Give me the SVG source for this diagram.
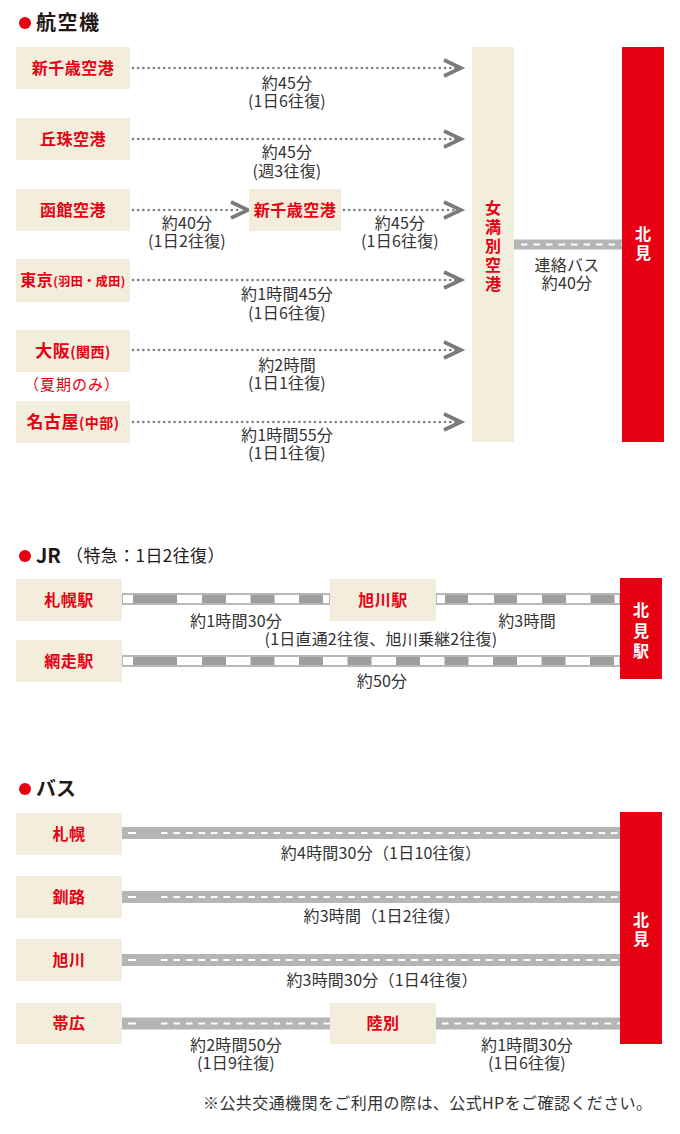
<svg xmlns="http://www.w3.org/2000/svg" width="680" height="1134" viewBox="0 0 680 1134">
<style>
text{font-family:"Noto Sans CJK JP","Noto Sans",sans-serif}
.hd{font-size:20px;font-weight:700;fill:#231815}
.hs{font-size:17px;fill:#231815}
.box{fill:#f3eddb}
.red{fill:#e60012}
.nl{font-size:16px;font-weight:700;fill:#e60012;text-anchor:middle;letter-spacing:0.5px}
.vt{font-size:16px;font-weight:700;writing-mode:vertical-rl;text-anchor:start}
.lb{font-size:16px;fill:#333;text-anchor:middle;letter-spacing:0.2px}
.dot{stroke:#7d7d7d;stroke-width:2.6;stroke-linecap:round;stroke-dasharray:0 5.2;fill:none}
.chev{stroke:#7a7a7a;stroke-width:3.6;fill:none;stroke-linejoin:miter}
.road{fill:#b5b5b5}
.dash{stroke:#fff;stroke-width:2;stroke-dasharray:6.5 6;fill:none}
.track{fill:#fff;stroke:#b8b8b8;stroke-width:2}
.blk{fill:#9e9e9e}
</style>

<!-- Section headers -->
<g id="hdr-air"><circle cx="25" cy="23" r="6" class="red"/><text x="36" y="30" class="hd" letter-spacing="1.5">航空機</text></g>
<g id="hdr-jr"><circle cx="25" cy="556" r="6" class="red"/><text x="36" y="563" class="hd">JR</text><text x="66" y="562" class="hs" letter-spacing="0.4">（特急：1日2往復）</text></g>
<g id="hdr-bus"><circle cx="25" cy="789" r="6" class="red"/><text x="36" y="796" class="hd">バス</text></g>

<!-- Connectors -->
<g id="connectors">
  <!-- air -->
  <line x1="133" y1="68" x2="457" y2="68" class="dot"/>
  <polyline points="444,60 461,68 444,76" class="chev"/>
  <line x1="133" y1="139" x2="457" y2="139" class="dot"/>
  <polyline points="444,131 461,139 444,147" class="chev"/>
  <line x1="133" y1="210" x2="242" y2="210" class="dot"/>
  <polyline points="231,202 248,210 231,218" class="chev"/>
  <line x1="344" y1="210" x2="457" y2="210" class="dot"/>
  <polyline points="444,202 461,210 444,218" class="chev"/>
  <line x1="133" y1="280" x2="457" y2="280" class="dot"/>
  <polyline points="444,272 461,280 444,288" class="chev"/>
  <line x1="133" y1="350" x2="457" y2="350" class="dot"/>
  <polyline points="444,342 461,350 444,358" class="chev"/>
  <line x1="133" y1="422" x2="457" y2="422" class="dot"/>
  <polyline points="444,414 461,422 444,430" class="chev"/>
  <!-- connecting bus -->
  <rect x="514" y="239.5" width="108" height="10" class="road"/>
  <line x1="521" y1="244.5" x2="622" y2="244.5" class="dash"/>

  <!-- JR tracks -->
  <rect x="122" y="594" width="208" height="10" class="track"/>
  <rect x="436" y="594" width="184" height="10" class="track"/>
  <rect x="122" y="656" width="498" height="10" class="track"/>
  <g class="blk">
    <rect x="133" y="595" width="44" height="8"/>
    <rect x="202" y="595" width="24" height="8"/>
    <rect x="250.5" y="595" width="24" height="8"/>
    <rect x="299" y="595" width="24" height="8"/>
    <rect x="445" y="595" width="23" height="8"/>
    <rect x="494" y="595" width="23" height="8"/>
    <rect x="542" y="595" width="24" height="8"/>
    <rect x="590.5" y="595" width="24" height="8"/>
    <rect x="133" y="657" width="44" height="8"/>
    <rect x="202" y="657" width="24" height="8"/>
    <rect x="250.5" y="657" width="24" height="8"/>
    <rect x="299" y="657" width="24" height="8"/>
    <rect x="347.5" y="657" width="24" height="8"/>
    <rect x="396" y="657" width="24" height="8"/>
    <rect x="444.5" y="657" width="24" height="8"/>
    <rect x="493" y="657" width="24" height="8"/>
    <rect x="541.5" y="657" width="24" height="8"/>
    <rect x="590" y="657" width="24" height="8"/>
  </g>

  <!-- Bus roads -->
  <rect x="122" y="827" width="498" height="12" class="road"/>
  <line x1="128" y1="833" x2="136" y2="833" stroke="#fff" stroke-width="2"/>
  <line x1="161" y1="833" x2="620" y2="833" class="dash"/>
  <rect x="122" y="891" width="498" height="12" class="road"/>
  <line x1="128" y1="897" x2="136" y2="897" stroke="#fff" stroke-width="2"/>
  <line x1="161" y1="897" x2="620" y2="897" class="dash"/>
  <rect x="122" y="954" width="498" height="12" class="road"/>
  <line x1="128" y1="960" x2="136" y2="960" stroke="#fff" stroke-width="2"/>
  <line x1="161" y1="960" x2="620" y2="960" class="dash"/>
  <rect x="122" y="1017.5" width="208" height="12" class="road"/>
  <line x1="128" y1="1023.5" x2="136" y2="1023.5" stroke="#fff" stroke-width="2"/>
  <line x1="161" y1="1023.5" x2="330" y2="1023.5" class="dash"/>
  <rect x="436" y="1017.5" width="184" height="12" class="road"/>
  <line x1="442" y1="1023.5" x2="620" y2="1023.5" class="dash"/>
</g>

<!-- Connector labels -->
<g id="labels">
  <text class="lb"><tspan x="287" y="89">約45分</tspan><tspan x="287" y="107">(1日6往復)</tspan></text>
  <text class="lb"><tspan x="287" y="158">約45分</tspan><tspan x="287" y="177">(週3往復)</tspan></text>
  <text class="lb"><tspan x="187" y="229">約40分</tspan><tspan x="187" y="247">(1日2往復)</tspan></text>
  <text class="lb"><tspan x="400" y="229">約45分</tspan><tspan x="400" y="247">(1日6往復)</tspan></text>
  <text class="lb"><tspan x="287" y="300">約1時間45分</tspan><tspan x="287" y="319">(1日6往復)</tspan></text>
  <text class="lb"><tspan x="287" y="371">約2時間</tspan><tspan x="287" y="389">(1日1往復)</tspan></text>
  <text class="lb"><tspan x="287" y="441">約1時間55分</tspan><tspan x="287" y="459">(1日1往復)</tspan></text>
  <text class="lb"><tspan x="567" y="271">連絡バス</tspan><tspan x="567" y="289">約40分</tspan></text>

  <text class="lb"><tspan x="236" y="627">約1時間30分</tspan><tspan x="381" y="645">(1日直通2往復、旭川乗継2往復)</tspan></text>
  <text x="527" y="627" class="lb">約3時間</text>
  <text x="382" y="687" class="lb">約50分</text>

  <text x="381" y="859" class="lb" letter-spacing="0">約4時間30分（1日10往復）</text>
  <text x="382" y="922" class="lb" letter-spacing="0">約3時間（1日2往復）</text>
  <text x="382" y="986" class="lb" letter-spacing="0">約3時間30分（1日4往復）</text>
  <text class="lb"><tspan x="236" y="1051">約2時間50分</tspan><tspan x="236" y="1069">(1日9往復)</tspan></text>
  <text class="lb"><tspan x="527" y="1051">約1時間30分</tspan><tspan x="527" y="1069">(1日6往復)</tspan></text>
</g>

<!-- Air nodes -->
<g id="n-shinchitose"><rect x="16" y="47" width="114" height="42" class="box"/><text x="73" y="74" class="nl">新千歳空港</text></g>
<g id="n-okadama"><rect x="16" y="118" width="114" height="42" class="box"/><text x="73" y="145" class="nl">丘珠空港</text></g>
<g id="n-hakodate"><rect x="16" y="189" width="114" height="42" class="box"/><text x="73" y="216" class="nl">函館空港</text></g>
<g id="n-shinchitose2"><rect x="249" y="189" width="92" height="42" class="box"/><text x="295" y="216" class="nl">新千歳空港</text></g>
<g id="n-tokyo"><rect x="16" y="259" width="114" height="43" class="box"/><text x="73" y="286" class="nl" letter-spacing="0">東京<tspan font-size="12">(羽田・成田)</tspan></text></g>
<g id="n-osaka"><rect x="16" y="330" width="114" height="42" class="box"/><text x="73" y="357" class="nl" letter-spacing="0"><tspan font-size="17">大阪</tspan><tspan font-size="14">(関西)</tspan></text><text x="72" y="390" font-size="15" fill="#e60012" text-anchor="middle" letter-spacing="1">（夏期のみ）</text></g>
<g id="n-nagoya"><rect x="16" y="401" width="114" height="42" class="box"/><text x="73" y="428" class="nl" letter-spacing="0.5"><tspan font-size="17">名古屋</tspan><tspan font-size="14">(中部)</tspan></text></g>
<g id="n-memanbetsu"><rect x="472" y="47" width="42" height="395" class="box"/>
  <text x="493" y="200" class="vt" fill="#e60012" letter-spacing="3">女満別空港</text></g>
<g id="n-kitami-air"><rect x="622" y="47" width="42" height="395" class="red"/>
  <text x="643" y="226" class="vt" fill="#fff" letter-spacing="3">北見</text></g>

<!-- JR nodes -->
<g id="n-sapporo-st"><rect x="16" y="579" width="106" height="42" class="box"/><text x="69" y="606" class="nl">札幌駅</text></g>
<g id="n-asahikawa-st"><rect x="330" y="579" width="106" height="42" class="box"/><text x="383" y="606" class="nl">旭川駅</text></g>
<g id="n-abashiri-st"><rect x="16" y="640" width="106" height="42" class="box"/><text x="69" y="667" class="nl">網走駅</text></g>
<g id="n-kitami-st"><rect x="620" y="578" width="42" height="101" class="red"/>
  <text x="641" y="602" class="vt" fill="#fff" letter-spacing="4.5">北見駅</text></g>

<!-- Bus nodes -->
<g id="n-sapporo-bus"><rect x="16" y="813" width="106" height="42" class="box"/><text x="69" y="840" class="nl">札幌</text></g>
<g id="n-kushiro-bus"><rect x="16" y="876" width="106" height="42" class="box"/><text x="69" y="903" class="nl">釧路</text></g>
<g id="n-asahikawa-bus"><rect x="16" y="939" width="106" height="42" class="box"/><text x="69" y="966" class="nl">旭川</text></g>
<g id="n-obihiro-bus"><rect x="16" y="1003" width="106" height="41" class="box"/><text x="69" y="1029" class="nl">帯広</text></g>
<g id="n-rikubetsu-bus"><rect x="330" y="1003" width="106" height="41" class="box"/><text x="383" y="1029" class="nl">陸別</text></g>
<g id="n-kitami-bus"><rect x="620" y="812" width="42" height="232" class="red"/>
  <text x="641" y="912" class="vt" fill="#fff" letter-spacing="2.5">北見</text></g>

<text x="203" y="1109" font-size="16" fill="#333" textLength="449" lengthAdjust="spacing">※公共交通機関をご利用の際は、公式HPをご確認ください。</text>
</svg>
